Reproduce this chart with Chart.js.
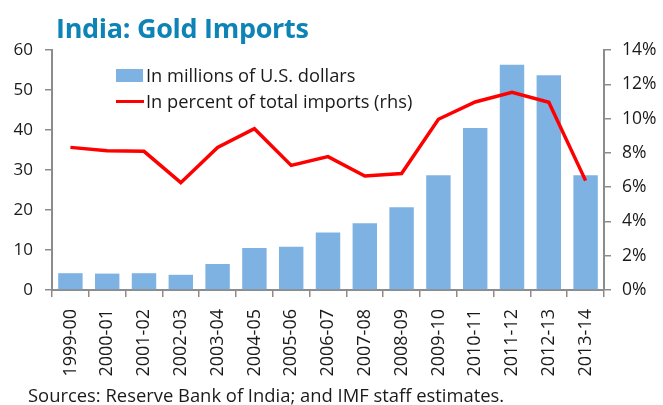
<!DOCTYPE html>
<html>
<head>
<meta charset="utf-8">
<script src="https://cdn.jsdelivr.net/npm/chart.js@4.4.1/dist/chart.umd.min.js"></script>
<style>
  html, body { margin: 0; padding: 0; background: #fff; }
  #wrap { position: relative; width: 663px; height: 405px; font-family: "Open Sans", sans-serif; color: #1a1a1a; }
  #mycanvas { position: absolute; left: 0; top: 0; }
  #title { position: absolute; left: 56px; top: 9px; font-size: 27px; font-weight: bold; color: #0d84b5; letter-spacing: -0.3px; }
  #legend { position: absolute; left: 116px; top: 62px; font-size: 18.3px; line-height: 26px; }
  #legend div { display: flex; align-items: center; white-space: nowrap; }
  .swatch { display: inline-block; width: 27px; height: 13px; background: #7eb2e3; margin-right: 3px; }
  .dash { display: inline-block; width: 28px; height: 3px; background: #ff0000; margin-right: 2px; }
  #source { position: absolute; left: 28px; top: 382px; font-size: 18.4px; white-space: nowrap; }
</style>
</head>
<body>
<div id="wrap">
  <canvas id="mycanvas" width="663" height="405"></canvas>
  <div id="title">India: Gold Imports</div>
  <div id="legend">
    <div><span class="swatch"></span>In millions of U.S. dollars</div>
    <div><span class="dash"></span>In percent of total imports (rhs)</div>
  </div>
  <div id="source">Sources: Reserve Bank of India; and IMF staff estimates.</div>
</div>
<script>
var years = ["1999-00", "2000-01", "2001-02", "2002-03", "2003-04", "2004-05", "2005-06", "2006-07",
             "2007-08", "2008-09", "2009-10", "2010-11", "2011-12", "2012-13", "2013-14"];
var goldUSD = [4.2, 4.1, 4.2, 3.8, 6.5, 10.5, 10.8, 14.4, 16.7, 20.7, 28.7, 40.5, 56.3, 53.7, 28.7];
var goldShare = [8.32, 8.13, 8.09, 6.26, 8.32, 9.41, 7.27, 7.78, 6.65, 6.79, 9.96, 10.97, 11.53, 10.95, 6.38];
var leftMax = 60, leftStep = 10;
var rightMax = 14, rightStep = 2;

var axisGrey = '#8c8c8c';
var tickFont = { family: 'Open Sans', size: 17 };

var chartdata = {
  labels: years,
  datasets: [
    {
      type: 'line',
      label: 'In percent of total imports (rhs)',
      data: goldShare,
      yAxisID: 'y1',
      borderColor: '#ff0000',
      borderWidth: 3.5,
      pointRadius: 0,
      tension: 0,
      order: 0
    },
    {
      type: 'bar',
      label: 'In millions of U.S. dollars',
      data: goldUSD,
      yAxisID: 'y',
      backgroundColor: '#7eb2e3',
      categoryPercentage: 0.8,
      barPercentage: 0.83,
      order: 1
    }
  ]
};

var ctx = document.getElementById('mycanvas');
var chart = new Chart(ctx, {
  data: chartdata,
  options: {
    responsive: false,
    animation: false,
    layout: { padding: { top: 50 } },
    plugins: { legend: { display: false }, tooltip: { enabled: false } },
    scales: {
      x: {
        grid: { offset: true, drawOnChartArea: false, color: axisGrey, lineWidth: 1.5, tickLength: 7 },
        border: { color: axisGrey, width: 2 },
        ticks: { minRotation: 90, maxRotation: 90, font: { family: 'Open Sans', size: 18 }, color: '#1a1a1a', padding: 12 },
        afterFit: function(s) { s.height = 115; }
      },
      y: {
        position: 'left',
        min: 0, max: leftMax,
        grid: { drawOnChartArea: false, color: axisGrey, lineWidth: 1.5, tickLength: 7 },
        border: { color: axisGrey, width: 2 },
        ticks: { stepSize: leftStep, font: tickFont, color: '#1a1a1a', padding: 12 },
        afterFit: function(s) { s.width = 52; }
      },
      y1: {
        position: 'right',
        min: 0, max: rightMax,
        grid: { drawOnChartArea: false, color: axisGrey, lineWidth: 1.5, tickLength: 7 },
        border: { color: axisGrey, width: 2 },
        ticks: { stepSize: rightStep, font: { family: 'Open Sans', size: 17.5 }, color: '#1a1a1a', padding: 11,
                 callback: function(v) { return v + '%'; } },
        afterFit: function(s) { s.width = 59; }
      }
    }
  }
});
</script>
</body>
</html>
